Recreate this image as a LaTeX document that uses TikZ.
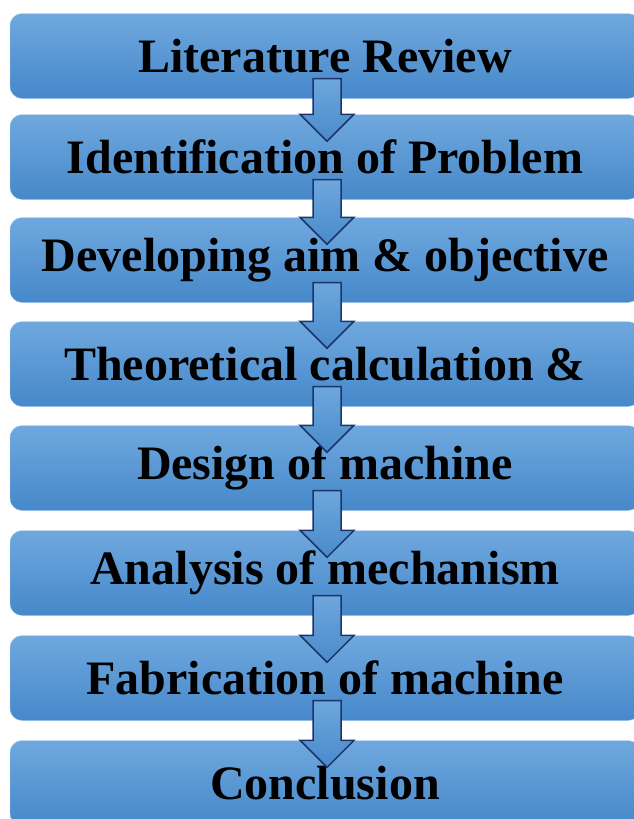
\documentclass[tikz,border=0pt]{standalone}
\usepackage{fontspec}
\setmainfont{Liberation Serif}
\usetikzlibrary{calc}
\definecolor{boxtop}{HTML}{6FA8DE}
\definecolor{boxbot}{HTML}{4688CA}
\definecolor{arrtop}{HTML}{6DA7DD}
\definecolor{arrbot}{HTML}{4A8ACB}
\definecolor{arredge}{HTML}{1B346A}
\tikzset{
  stagebox/.style={rounded corners=12pt, top color=boxtop, bottom color=boxbot,
    draw=boxtop!60!white, line width=0.4pt,
    minimum width=630pt, minimum height=85pt, inner sep=0pt,
    font=\fontsize{48}{50}\selectfont\bfseries, text=black},
  blockarrow/.style={draw=arredge, line width=1.5pt, line join=miter,
    top color=arrtop, bottom color=arrbot}
}
\newcommand\flowarrow[2]{%
  \draw[blockarrow]
    ($(#1.south)+(-12,-20)$) -- ($(#1.south)+(16,-20)$) --
    ($(#2.north)+(16,0)$) -- ($(#2.north)+(29,0)$) --
    ($(#2.north)+(2,27)$) -- ($(#2.north)+(-25,0)$) --
    ($(#2.north)+(-12,0)$) -- cycle;}
\begin{document}
\begin{tikzpicture}[x=1pt,y=-1pt]
\useasboundingbox (0,0) rectangle (634,819);
\node[stagebox] (b1) at (325,56) {Literature Review};
\node[stagebox] (b2) at (325,157) {Identification of Problem};
\node[stagebox] (b3) at (325,260) {Developing aim \& objective};
\node[stagebox] (b4) at (325,364) {Theoretical calculation \&};
\node[stagebox] (b5) at (325,468) {Design of machine};
\node[stagebox] (b6) at (325,573) {Analysis of mechanism};
\node[stagebox] (b7) at (325,678) {Fabrication of machine};
\node[stagebox] (b8) at (325,783) {Conclusion};
\flowarrow{b1}{b2}
\flowarrow{b2}{b3}
\flowarrow{b3}{b4}
\flowarrow{b4}{b5}
\flowarrow{b5}{b6}
\flowarrow{b6}{b7}
\flowarrow{b7}{b8}
\end{tikzpicture}
\end{document}
